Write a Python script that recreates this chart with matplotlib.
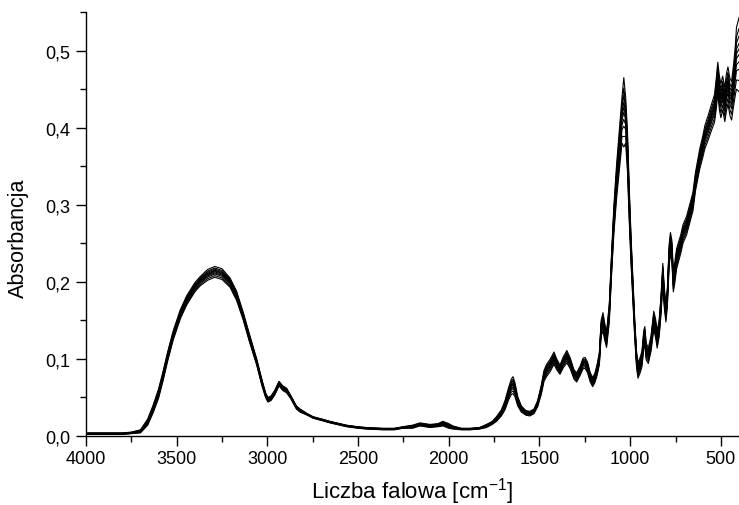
"""FTIR absorbance spectra (overlay of several samples)."""

import matplotlib

matplotlib.use("Agg")
import matplotlib.pyplot as plt
from matplotlib.ticker import FuncFormatter, MultipleLocator
import numpy as np

# wavenumber knots [cm-1]
wavenumber = [
    4000, 3900, 3800, 3750, 3700, 3660, 3630, 3600, 3575, 3550, 3520, 3480,
    3445, 3400, 3370, 3330, 3290, 3250, 3206, 3170, 3134, 3100, 3059, 3030,
    3010, 2997, 2980, 2960, 2936, 2915, 2894, 2870, 2840, 2820, 2780, 2748,
    2700, 2655, 2600, 2563, 2500, 2453, 2362, 2300, 2253, 2200, 2159, 2104,
    2060, 2032, 2000, 1977, 1930, 1883, 1830, 1792, 1760, 1737, 1710, 1690,
    1670, 1655, 1646, 1635, 1620, 1600, 1575, 1553, 1530, 1510, 1490, 1475,
    1461, 1440, 1420, 1405, 1387, 1370, 1349, 1330, 1310, 1295, 1275, 1260,
    1249, 1235, 1220, 1207, 1195, 1183, 1170, 1160, 1150, 1140, 1130, 1115,
    1103, 1090, 1075, 1060, 1045, 1035, 1025, 1015, 1005, 995, 985, 975,
    965, 957, 945, 935, 925, 919, 912, 900, 885, 870, 860, 851,
    840, 830, 820, 812, 803, 795, 785, 778, 770, 762, 755, 744,
    720, 709, 689, 670, 654, 640, 616, 600, 588, 570, 551, 535,
    525, 517, 508, 500, 490, 478, 470, 461, 450, 441, 430, 420,
    414, 400,
]

# mean absorbance of the bundle at each knot
absorbance = [
    0.003, 0.003, 0.003, 0.004, 0.006, 0.018, 0.035, 0.055, 0.078, 0.103, 0.130, 0.158,
    0.176, 0.193, 0.201, 0.209, 0.213, 0.210, 0.199, 0.182, 0.156, 0.128, 0.096, 0.069,
    0.053, 0.047, 0.049, 0.056, 0.068, 0.062, 0.059, 0.050, 0.037, 0.033, 0.028, 0.024,
    0.021, 0.018, 0.015, 0.013, 0.011, 0.010, 0.009, 0.009, 0.011, 0.012, 0.015, 0.013,
    0.014, 0.016, 0.013, 0.011, 0.009, 0.009, 0.010, 0.013, 0.017, 0.022, 0.030, 0.040,
    0.055, 0.064, 0.066, 0.060, 0.045, 0.035, 0.030, 0.029, 0.032, 0.042, 0.060, 0.078,
    0.085, 0.092, 0.101, 0.093, 0.086, 0.095, 0.103, 0.094, 0.080, 0.076, 0.085, 0.094,
    0.095, 0.089, 0.076, 0.070, 0.075, 0.085, 0.100, 0.140, 0.148, 0.135, 0.125, 0.160,
    0.221, 0.280, 0.330, 0.370, 0.410, 0.420, 0.410, 0.370, 0.300, 0.240, 0.190, 0.140,
    0.100, 0.085, 0.092, 0.100, 0.125, 0.130, 0.110, 0.104, 0.120, 0.150, 0.140, 0.125,
    0.140, 0.170, 0.210, 0.180, 0.160, 0.180, 0.235, 0.250, 0.240, 0.200, 0.210, 0.230,
    0.250, 0.262, 0.273, 0.290, 0.304, 0.330, 0.360, 0.375, 0.388, 0.400, 0.414, 0.425,
    0.445, 0.465, 0.445, 0.435, 0.445, 0.430, 0.445, 0.455, 0.440, 0.435, 0.455, 0.475,
    0.490, 0.495,
]

# half-width of the sample bundle at each knot
spread = [
    0.001, 0.001, 0.001, 0.001, 0.002, 0.004, 0.005, 0.006, 0.006, 0.006, 0.006, 0.006,
    0.006, 0.006, 0.006, 0.007, 0.007, 0.007, 0.006, 0.006, 0.005, 0.005, 0.004, 0.004,
    0.003, 0.003, 0.003, 0.003, 0.003, 0.003, 0.003, 0.002, 0.002, 0.002, 0.001, 0.001,
    0.001, 0.001, 0.001, 0.001, 0.001, 0.001, 0.001, 0.001, 0.001, 0.002, 0.002, 0.002,
    0.002, 0.003, 0.003, 0.002, 0.001, 0.001, 0.001, 0.002, 0.002, 0.003, 0.004, 0.006,
    0.008, 0.010, 0.011, 0.009, 0.006, 0.004, 0.003, 0.003, 0.003, 0.004, 0.006, 0.007,
    0.008, 0.008, 0.008, 0.007, 0.006, 0.007, 0.008, 0.007, 0.006, 0.006, 0.006, 0.007,
    0.007, 0.007, 0.006, 0.006, 0.006, 0.007, 0.008, 0.010, 0.012, 0.011, 0.010, 0.012,
    0.014, 0.018, 0.022, 0.026, 0.030, 0.045, 0.030, 0.026, 0.022, 0.018, 0.015, 0.012,
    0.010, 0.010, 0.010, 0.010, 0.012, 0.012, 0.011, 0.010, 0.010, 0.012, 0.012, 0.011,
    0.011, 0.012, 0.014, 0.013, 0.012, 0.012, 0.014, 0.014, 0.014, 0.013, 0.013, 0.013,
    0.012, 0.012, 0.012, 0.012, 0.012, 0.012, 0.013, 0.014, 0.015, 0.016, 0.017, 0.018,
    0.020, 0.020, 0.022, 0.022, 0.022, 0.022, 0.024, 0.024, 0.024, 0.025, 0.027, 0.032,
    0.040, 0.048,
]

# relative position of each sample inside the bundle (-1 bottom .. 1 top)
sample_position = [-1.0, -0.7, -0.4, -0.2, 0.0, 0.15, 0.3, 0.5, 0.7, 1.0]

plt.rcParams["font.family"] = ["Liberation Sans", "DejaVu Sans"]
plt.rcParams["mathtext.fontset"] = "custom"
plt.rcParams["mathtext.rm"] = "Liberation Sans"
plt.rcParams["mathtext.it"] = "Liberation Sans:italic"

fig = plt.figure(figsize=(7.39, 5.06), dpi=100)
ax = fig.add_axes([0.1164, 0.1364, 0.8836, 0.8376])

wn = np.array(wavenumber)
base = np.array(absorbance)
width = np.array(spread)
for pos in sample_position:
    ax.plot(wn, base + pos * width, color="black", linewidth=0.8)

ax.set_xlim(4000, 400)
ax.set_ylim(0, 0.55)

ax.spines["top"].set_visible(False)
ax.spines["right"].set_visible(False)
for side in ("left", "bottom"):
    ax.spines[side].set_linewidth(1.0)

ax.xaxis.set_major_locator(MultipleLocator(500))
ax.xaxis.set_minor_locator(MultipleLocator(250))
ax.yaxis.set_major_locator(MultipleLocator(0.1))
ax.yaxis.set_minor_locator(MultipleLocator(0.05))
ax.yaxis.set_major_formatter(
    FuncFormatter(lambda v, _: "{:.1f}".format(v).replace(".", ",")))

ax.tick_params(which="major", direction="out", length=7, width=1.0,
               labelsize=13, color="black")
ax.tick_params(which="minor", direction="out", length=4.3, width=1.0)
ax.tick_params(axis="y", pad=4)
ax.tick_params(axis="x", pad=3)

ax.set_xlabel("Liczba falowa [cm$^{\\mathrm{-1}}$]", fontsize=16, labelpad=6)
ax.set_ylabel("Absorbancja", fontsize=15.5)
ax.yaxis.set_label_coords(-0.088, 0.469)

fig.savefig("out.png", dpi=100)
plt.close(fig)
